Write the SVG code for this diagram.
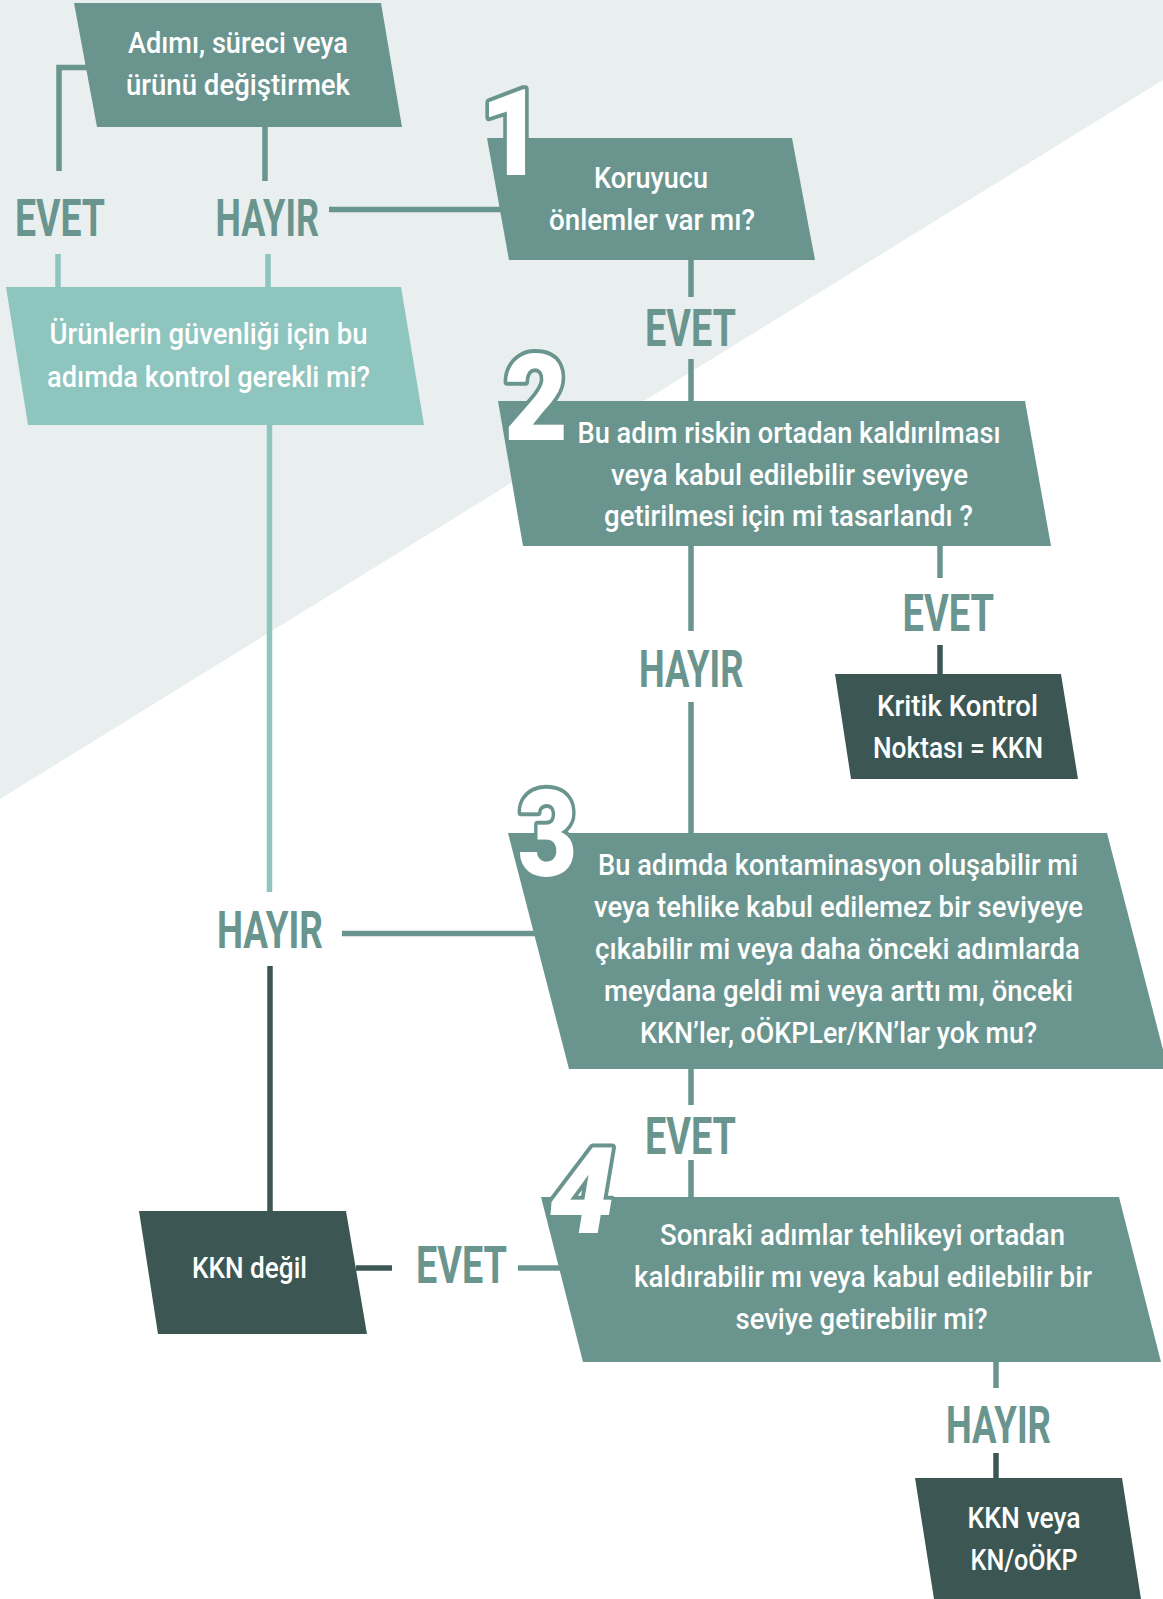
<svg xmlns="http://www.w3.org/2000/svg" width="1163" height="1599" viewBox="0 0 1163 1599">
<style>
.mid{fill:#6A958F}
.light{fill:#8EC5BE}
.dark{fill:#3C5753}
.cm{stroke:#6A958F;stroke-width:5.5;fill:none}
.cl{stroke:#8EC5BE;stroke-width:5.5;fill:none}
.cd{stroke:#3C5753;stroke-width:5.5;fill:none}
.nt{font-family:Roboto,"Liberation Sans",sans-serif;font-weight:500;font-size:30px;fill:#FFFFFF;text-anchor:middle}
.lbl{font-family:Roboto,"Liberation Sans",sans-serif;font-weight:700;font-size:51px;fill:#6A958F}
.num{font-family:Roboto,"Liberation Sans",sans-serif;font-weight:900;font-size:121px;fill:#FFFFFF;stroke:#6A958F;stroke-width:8;paint-order:stroke;stroke-linejoin:round;text-anchor:middle}
</style>
<rect x="0" y="0" width="1163" height="1599" fill="#FFFFFF"/>
<polygon points="0,0 1163,0 1163,80 0,799" fill="#E9EFEE"/>

<g id="connectors">
<path class="cm" d="M88,67.5 H59 V171"/>
<path class="cm" d="M265,127 V181"/>
<path class="cm" d="M329,209.5 H502"/>
<path class="cl" d="M58,254 V287"/>
<path class="cl" d="M268,254 V287"/>
<path class="cm" d="M691,260 V297"/>
<path class="cm" d="M691,359 V401"/>
<path class="cm" d="M691,546 V631"/>
<path class="cm" d="M691,702 V833"/>
<path class="cm" d="M940,546 V578"/>
<path class="cd" d="M940,645 V674"/>
<path class="cl" d="M269.5,425 V892"/>
<path class="cm" d="M342,933.5 H536"/>
<path class="cd" d="M270,966 V1211"/>
<path class="cm" d="M691,1069 V1105"/>
<path class="cm" d="M691,1160 V1197"/>
<path class="cd" d="M356,1268 H392"/>
<path class="cm" d="M518,1268 H560"/>
<path class="cm" d="M996,1362 V1388"/>
<path class="cd" d="M996,1453 V1478"/>
<text class="lbl" x="15" y="236" textLength="90" lengthAdjust="spacingAndGlyphs">EVET</text>
<text class="lbl" x="215.5" y="236" textLength="103.5" lengthAdjust="spacingAndGlyphs">HAYIR</text>
<text class="lbl" x="645" y="346" textLength="91" lengthAdjust="spacingAndGlyphs">EVET</text>
<text class="lbl" x="902.5" y="631" textLength="91.5" lengthAdjust="spacingAndGlyphs">EVET</text>
<text class="lbl" x="639" y="686.5" textLength="104.5" lengthAdjust="spacingAndGlyphs">HAYIR</text>
<text class="lbl" x="217" y="948" textLength="106" lengthAdjust="spacingAndGlyphs">HAYIR</text>
<text class="lbl" x="645" y="1154" textLength="91" lengthAdjust="spacingAndGlyphs">EVET</text>
<text class="lbl" x="416" y="1283" textLength="91" lengthAdjust="spacingAndGlyphs">EVET</text>
<text class="lbl" x="946" y="1443" textLength="105" lengthAdjust="spacingAndGlyphs">HAYIR</text>
</g>

<g id="node-start">
<polygon class="mid" points="74,3 381,3 402,127 97,127"/>
<text class="nt" x="238" y="53" textLength="220" lengthAdjust="spacingAndGlyphs">Adımı, süreci veya</text>
<text class="nt" x="238" y="95" textLength="224" lengthAdjust="spacingAndGlyphs">ürünü değiştirmek</text>
</g>

<g id="node-control">
<polygon class="light" points="6,287 401,287 424,425 28,425"/>
<text class="nt" x="208.5" y="344" textLength="318" lengthAdjust="spacingAndGlyphs">Ürünlerin güvenliği için bu</text>
<text class="nt" x="208.5" y="387" textLength="323" lengthAdjust="spacingAndGlyphs">adımda kontrol gerekli mi?</text>
</g>

<g id="node-q1">
<polygon class="mid" points="487,138 792,138 815,260 509,260"/>
<text class="nt" x="651" y="188" textLength="114" lengthAdjust="spacingAndGlyphs">Koruyucu</text>
<text class="nt" x="652" y="230" textLength="206" lengthAdjust="spacingAndGlyphs">önlemler var mı?</text>
<text class="num" x="512" y="175" textLength="64" lengthAdjust="spacingAndGlyphs">1</text>
</g>

<g id="node-q2">
<polygon class="mid" points="498,401 1025,401 1051,546 523,546"/>
<text class="nt" x="789" y="443" textLength="423" lengthAdjust="spacingAndGlyphs">Bu adım riskin ortadan kaldırılması</text>
<text class="nt" x="789.5" y="485" textLength="357" lengthAdjust="spacingAndGlyphs">veya kabul edilebilir seviyeye</text>
<text class="nt" x="788.5" y="526" textLength="369" lengthAdjust="spacingAndGlyphs">getirilmesi için mi tasarlandı ?</text>
<text class="num" x="536" y="440" textLength="64" lengthAdjust="spacingAndGlyphs">2</text>
</g>

<g id="node-kkn">
<polygon class="dark" points="835,674 1061,674 1078,779 851,779"/>
<text class="nt" x="957.5" y="716" textLength="161" lengthAdjust="spacingAndGlyphs">Kritik Kontrol</text>
<text class="nt" x="958" y="758" textLength="170" lengthAdjust="spacingAndGlyphs">Noktası = KKN</text>
</g>

<g id="node-q3">
<polygon class="mid" points="508,833 1107,833 1168,1069 569,1069"/>
<text class="nt" x="838" y="875" textLength="480" lengthAdjust="spacingAndGlyphs">Bu adımda kontaminasyon oluşabilir mi</text>
<text class="nt" x="838.5" y="917" textLength="489" lengthAdjust="spacingAndGlyphs">veya tehlike kabul edilemez bir seviyeye</text>
<text class="nt" x="837.5" y="959" textLength="485" lengthAdjust="spacingAndGlyphs">çıkabilir mi veya daha önceki adımlarda</text>
<text class="nt" x="838.5" y="1001" textLength="469" lengthAdjust="spacingAndGlyphs">meydana geldi mi veya arttı mı, önceki</text>
<text class="nt" x="838.5" y="1043" textLength="397" lengthAdjust="spacingAndGlyphs">KKN’ler, oÖKPLer/KN’lar yok mu?</text>
<text class="num" x="547.5" y="876" textLength="60" lengthAdjust="spacingAndGlyphs">3</text>
</g>

<g id="node-not-kkn">
<polygon class="dark" points="139,1211 346,1211 367,1334 158,1334"/>
<text class="nt" x="249.5" y="1278" textLength="115" lengthAdjust="spacingAndGlyphs">KKN değil</text>
</g>

<g id="node-q4">
<polygon class="mid" points="541,1197 1119,1197 1161,1362 583,1362"/>
<text class="nt" x="862.5" y="1245" textLength="405" lengthAdjust="spacingAndGlyphs">Sonraki adımlar tehlikeyi ortadan</text>
<text class="nt" x="863" y="1287" textLength="458" lengthAdjust="spacingAndGlyphs">kaldırabilir mı veya kabul edilebilir bir</text>
<text class="nt" x="861.5" y="1329" textLength="252" lengthAdjust="spacingAndGlyphs">seviye getirebilir mi?</text>
<text class="num" x="582" y="1233" textLength="66" lengthAdjust="spacingAndGlyphs" font-style="italic">4</text>
</g>

<g id="node-kkn-kn">
<polygon class="dark" points="915,1478 1122,1478 1141,1599 934,1599"/>
<text class="nt" x="1024" y="1528" textLength="113" lengthAdjust="spacingAndGlyphs">KKN veya</text>
<text class="nt" x="1024" y="1570" textLength="107" lengthAdjust="spacingAndGlyphs">KN/oÖKP</text>
</g>
</svg>
